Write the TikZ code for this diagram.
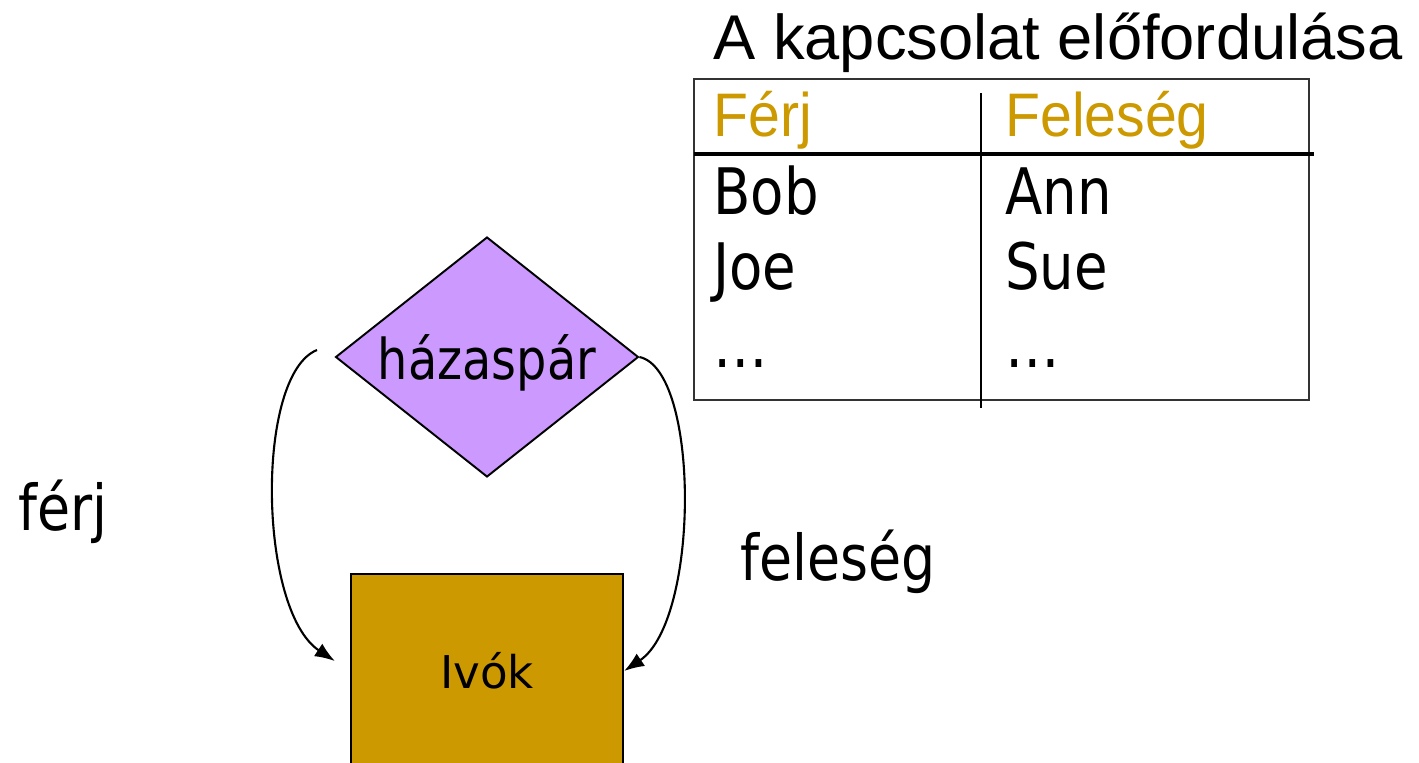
\documentclass[tikz,border=0pt]{standalone}
\usepackage{fontspec}
\usepackage{xcolor}
\usepackage{tikz}
\usetikzlibrary{arrows.meta, shapes.geometric}

\newfontfamily\titlefont{Liberation Sans}
\newfontfamily\headfont[FakeStretch=0.93]{Liberation Sans}
\newfontfamily\cellfont[FakeStretch=0.85]{DejaVu Sans}
\newfontfamily\boxfont{DejaVu Sans}

\definecolor{lilac}{HTML}{CC99FF}
\definecolor{gold}{HTML}{CC9900}

\begin{document}
\begin{tikzpicture}[x=0.02cm, y=-0.02cm,
    txt/.style={anchor=base west, inner sep=0pt},
    rel/.style={shape=diamond, draw, fill=lilac, line width=1.1pt, inner sep=0pt,
        aspect=1.26, minimum width=6.06cm, minimum height=4.8cm,
        text height=1.08cm, text depth=0.16cm},
    ent/.style={rectangle, draw, fill=gold, line width=1.3pt,
        minimum width=5.44cm, minimum height=3.88cm},
    role/.style={line width=1.2pt, -{Latex[length=0.4cm, width=0.3cm]}}]
    \useasboundingbox (0,0) rectangle (1419,763);

    % table of the relationship
    \node[txt] at (713, 60) (title) {\titlefont\fontsize{36pt}{40pt}\selectfont A kapcsolat előfordulása};
    \draw [line width=1.1pt, black!80] (694,79) rectangle (1309,400);
    \draw [line width=1.8pt] (694,154) -- (1314,154);
    \draw [line width=1.1pt] (981,93) -- (981,408);
    \node[txt, text=gold] at (713, 137) (ferjhead) {\headfont\fontsize{35pt}{40pt}\selectfont Férj};
    \node[txt, text=gold] at (1005, 137) (feleseghead) {\headfont\fontsize{35pt}{40pt}\selectfont Feleség};
    \node[txt] at (713, 215) (bob) {\cellfont\fontsize{36.5pt}{40pt}\selectfont Bob};
    \node[txt] at (1005, 215) (ann) {\cellfont\fontsize{36.5pt}{40pt}\selectfont Ann};
    \node[txt] at (713, 290) (joe) {\cellfont\fontsize{36.5pt}{40pt}\selectfont Joe};
    \node[txt] at (1005, 290) (sue) {\cellfont\fontsize{36.5pt}{40pt}\selectfont Sue};
    \node[txt] at (713, 367) (dotsa) {\cellfont\fontsize{36.5pt}{40pt}\selectfont …};
    \node[txt] at (1005, 367) (dotsb) {\cellfont\fontsize{36.5pt}{40pt}\selectfont …};

    % E/R diagram
    \node[rel] at (487, 357) (hazaspar) {\cellfont\fontsize{32pt}{36pt}\selectfont házaspár};
    \node[ent] at (487, 671) (ivok) {\boxfont\fontsize{25.7pt}{30pt}\selectfont Ivók};
    \coordinate (lstart) at (317, 350);

    \draw [role, shorten >=0.36cm] (lstart) .. controls (255,375) and (258,610) .. (ivok.west);
    \draw [role] (hazaspar.east) .. controls (700,370) and (700,620) .. (ivok.east);

    \node[txt] at (18, 530) (ferj) {\cellfont\fontsize{36pt}{40pt}\selectfont férj};
    \node[txt] at (740, 580) (feleseg) {\cellfont\fontsize{36pt}{40pt}\selectfont feleség};
\end{tikzpicture}
\end{document}
